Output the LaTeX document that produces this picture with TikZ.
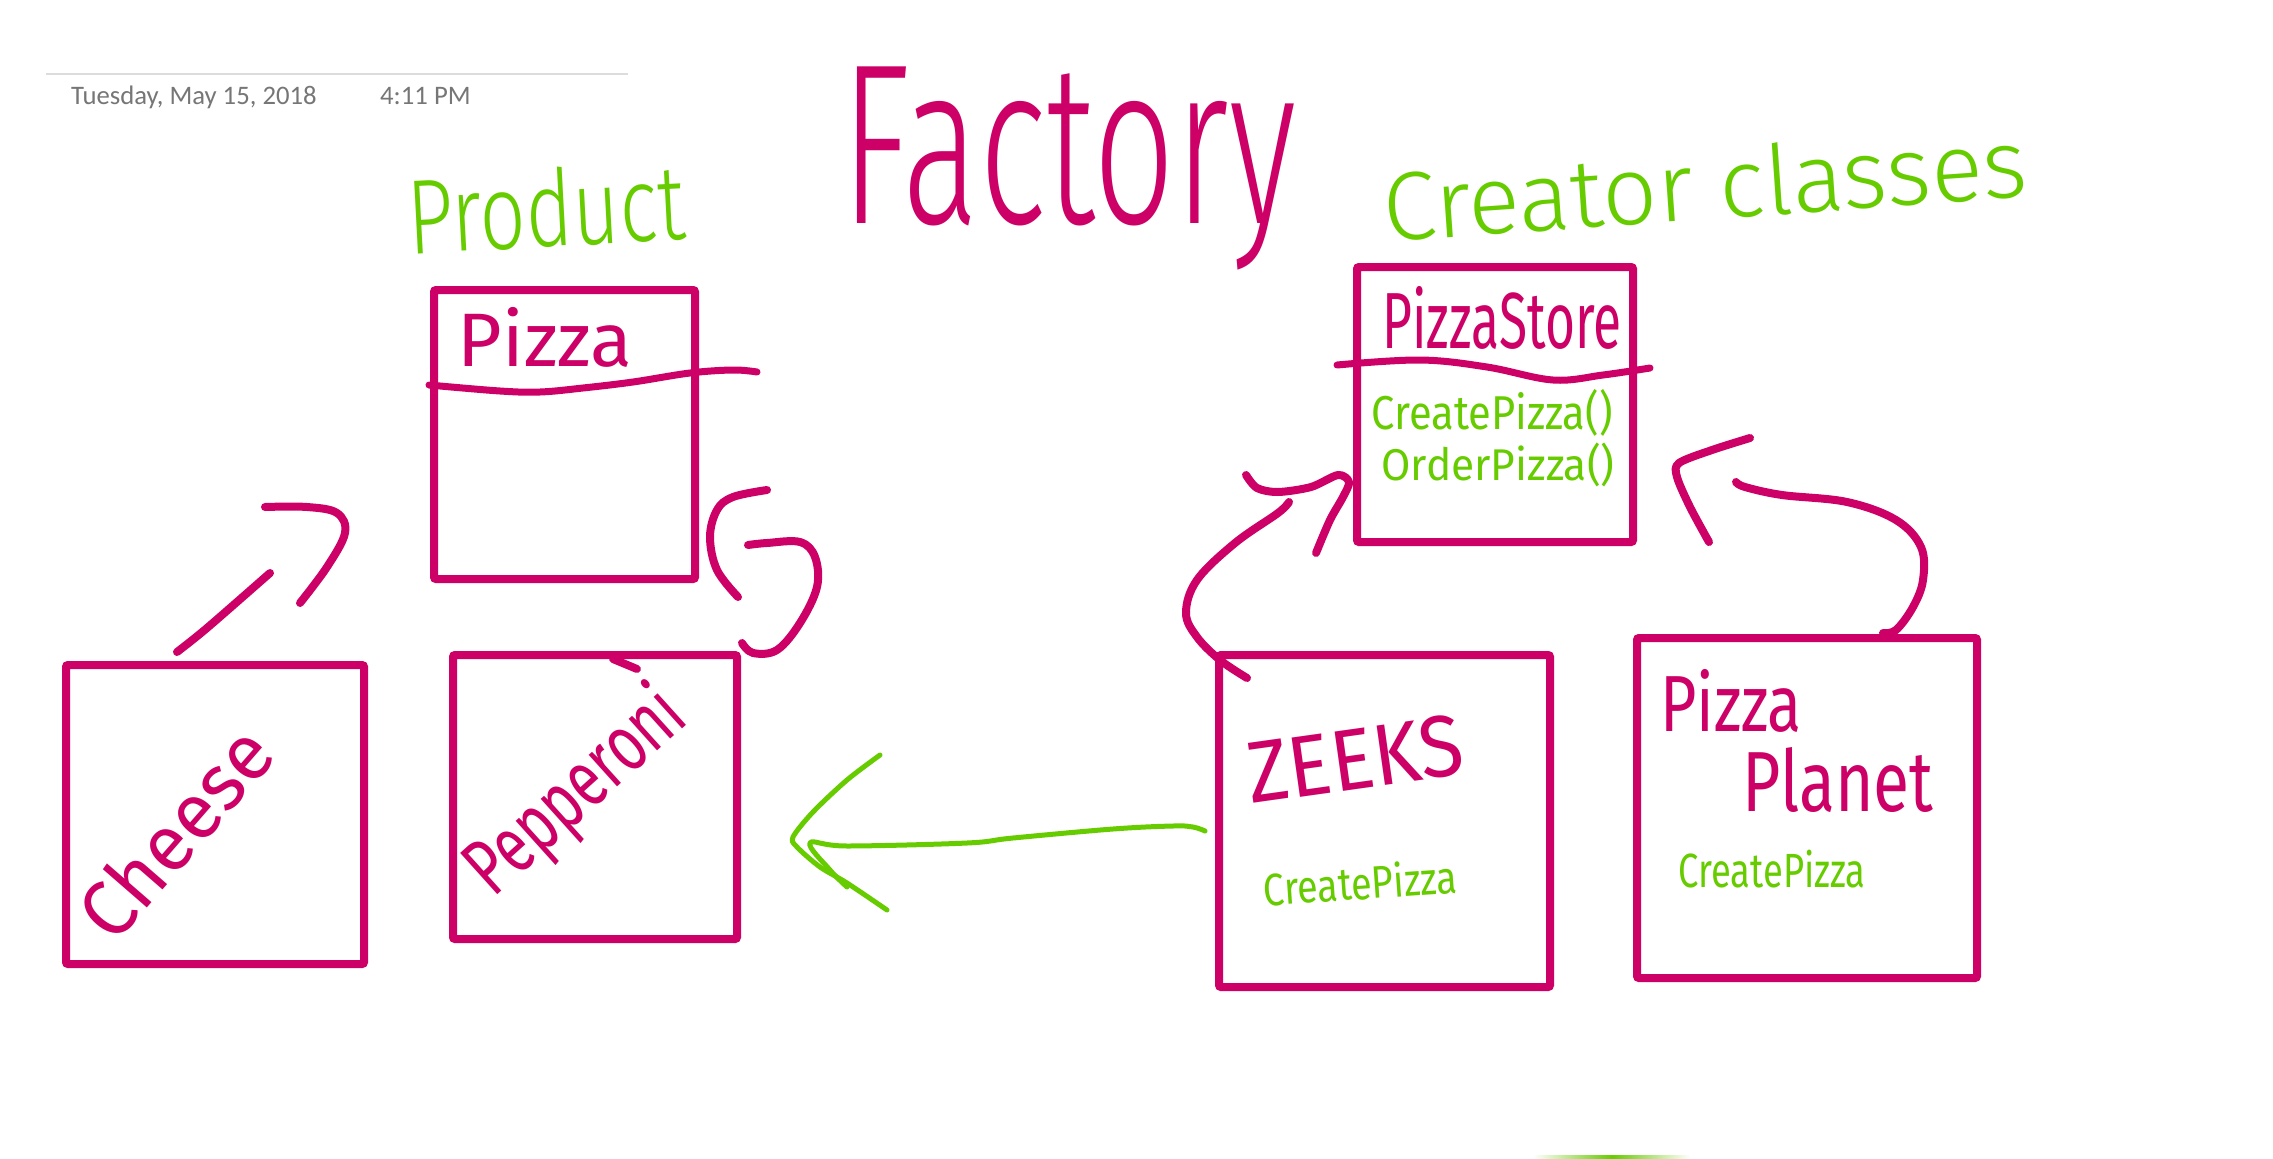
\documentclass[tikz,border=0pt]{standalone}
\usepackage{fontspec}
\usepackage{graphicx}
\newfontfamily\datefont{Carlito}
\newfontfamily\hand{Fira Sans}
\newfontfamily\handlight{Fira Sans Light}
\definecolor{mag}{RGB}{204,0,102}
\definecolor{grn}{RGB}{102,204,0}
\definecolor{dategray}{RGB}{118,118,118}
\definecolor{rulegray}{RGB}{220,220,220}
\newcommand{\fitto}[3]{\resizebox*{#1pt}{#2pt}{\hand #3}}
\newcommand{\fitlight}[3]{\resizebox*{#1pt}{#2pt}{\handlight #3}}
\begin{document}
\begin{tikzpicture}[x=1pt,y=-1pt,
  box/.style={draw=mag, line width=8pt, rounded corners=2pt, inner sep=0pt},
  ink/.style={draw=mag, line width=8pt, line cap=round, line join=round},
  gink/.style={draw=grn, line width=5pt, line cap=round, line join=round},
  lbl/.style={inner sep=0pt, text=mag},
  glbl/.style={inner sep=0pt, text=grn},
  datetxt/.style={anchor=base west, inner sep=0pt, text=dategray, font=\datefont\fontsize{26.7}{30}\selectfont}]
\fill[white] (0,0) rectangle (2273,1159);
\useasboundingbox (0,0) rectangle (2273,1159);

% header
\coordinate (ruleL) at (46,74);
\coordinate (ruleR) at (628,74);
\draw[rulegray, line width=2pt] (ruleL) -- (ruleR);
\node[datetxt] (date) at (71,104) {Tuesday, May 15, 2018};
\node[datetxt] (time) at (380,104) {4:11 PM};

% titles
\node[lbl] (tfactory) at (1069,168.5) {\fitlight{454}{203}{Factory}};
\node[glbl, rotate=3] (tproduct) at (546,208) {\fitlight{278}{80}{Product}};
\node[glbl, rotate=4] (tcreator) at (1705,184) {\fitlight{645}{73}{Creator classes}};

% boxes
\node[box, minimum width=261pt, minimum height=289pt] (pizza) at (564.5,434.5) {};
\node[box, minimum width=298pt, minimum height=299pt] (cheese) at (215,814.5) {};
\node[box, minimum width=284pt, minimum height=284pt] (pepperoni) at (595,797) {};
\node[box, minimum width=276pt, minimum height=275pt] (store) at (1495,404.5) {};
\node[box, minimum width=331pt, minimum height=332pt] (zeeks) at (1384.5,821) {};
\node[box, minimum width=340pt, minimum height=340pt] (planet) at (1807,808) {};

% dividers
\draw[ink, line width=7pt] plot[smooth, tension=0.6] coordinates {(429,385) (500,391) (540,392) (583,388) (633,382) (690,373) (733,370) (757,372)};
\draw[ink, line width=7pt] plot[smooth, tension=0.6] coordinates {(1337,365) (1420,360) (1487,367) (1553,380) (1603,375) (1650,368)};

% labels in boxes
\node[lbl] (tpizza) at (545,337) {\fitto{174}{60}{Pizza}};
\node[lbl, rotate=49] (tcheese) at (175,832) {\fitto{250}{60}{Cheese}};
\node[lbl, rotate=42] (tpep) at (577,793) {\fitto{265}{80}{Pepperoni}};
\node[lbl] (tstore) at (1502,318) {\fitto{239}{63}{PizzaStore}};
\node[glbl] (tcreate) at (1492,413) {\fitto{241}{47}{CreatePizza()}};
\node[glbl] (torder) at (1498,465) {\fitto{233}{44}{OrderPizza()}};
\node[lbl, rotate=8] (tzeeks) at (1355,759) {\fitto{218}{62}{ZEEKS}};
\node[glbl, rotate=4] (tzcreate) at (1360,882) {\fitto{194}{36}{CreatePizza}};
\node[lbl] (tpp1) at (1731,701) {\fitto{142}{63}{Pizza}};
\node[lbl] (tpp2) at (1838,780) {\fitto{191}{65}{Planet}};
\node[glbl] (tpcreate) at (1772,869) {\fitto{187}{38}{CreatePizza}};

% cheese -> pizza
\coordinate (a1s) at (177,652);
\coordinate (a1e) at (270,573);
\draw[ink] plot[smooth] coordinates {(a1s) (207,628) (a1e)};
\draw[ink] plot[smooth, tension=0.6] coordinates {(300,603) (327,567) (345,533) (337,513) (307,507) (265,507)};

% pepperoni -> pizza
\coordinate (a2s) at (742,643);
\coordinate (a2e) at (748,545);
\draw[ink] plot[smooth, tension=0.6] coordinates {(a2s) (753,653) (777,650) (800,623) (817,587) (815,557) (800,542) (767,543) (a2e)};
\draw[ink] plot[smooth, tension=0.6] coordinates {(767,490) (733,497) (717,510) (710,537) (717,570) (738,597)};
\draw[ink] (613,659) -- (637,669);

% zeeks -> store
\coordinate (a3s) at (1247,678);
\coordinate (a3e) at (1289,502);
\draw[ink] plot[smooth, tension=0.6] coordinates {(a3s) (1220,660) (1197,637) (1186,613) (1197,580) (1235,543) (1278,513) (a3e)};
\draw[ink] plot[smooth, tension=0.5] coordinates {(1246,475) (1257,488) (1278,492) (1311,487) (1338,475) (1349,482) (1343,497) (1330,520) (1316,553)};

% planet -> store
\coordinate (a4s) at (1883,633);
\coordinate (a4e) at (1736,482);
\draw[ink] plot[smooth, tension=0.6] coordinates {(a4s) (1896,630) (1913,607) (1923,580) (1921,547) (1896,520) (1847,502) (1782,495) (1745,487) (a4e)};
\draw[ink] plot[smooth, tension=0.5] coordinates {(1750,438) (1712,450) (1679,463) (1677,477) (1690,507) (1709,542)};

% zeeks -> pepperoni (green)
\coordinate (a5s) at (1205,831);
\coordinate (a5e) at (810,843);
\draw[gink] plot[smooth, tension=0.6] coordinates {(a5s) (1193,827) (1173,826) (1113,829) (1013,838) (967,843) (847,846) (a5e) (830,870) (847,887)};
\draw[gink] plot[smooth, tension=0.5] coordinates {(880,755) (847,780) (813,812) (793,837) (797,847) (820,867) (847,883) (887,910)};

% faint green mark at bottom
\shade[left color=white, right color=grn] (1533,1155.5) rectangle (1612,1158.5);
\shade[left color=grn, right color=white] (1612,1155.5) rectangle (1690,1158.5);
\end{tikzpicture}
\end{document}
